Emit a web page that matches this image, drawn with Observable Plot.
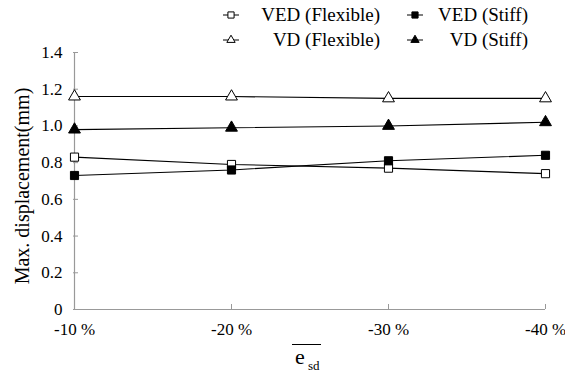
<!DOCTYPE html>
<html>
<head>
<meta charset="utf-8">
<script src="https://cdn.jsdelivr.net/npm/d3@7"></script>
<script src="https://cdn.jsdelivr.net/npm/@observablehq/plot@0.6"></script>
<style>
  body { margin: 0; background: #fff; }
  #wrap { position: relative; width: 565px; height: 377px; font-family: "Liberation Serif", "Times New Roman", serif; color: #000; }
  #wrap svg.plot { position: absolute; left: 0; top: 0; }
  .legend-text { position: absolute; font-size: 19px; line-height: 20px; white-space: nowrap; }
  .xtitle { position: absolute; left: 292px; top: 340px; font-size: 22px; line-height: 22px; }
  .xtitle .bar { position: absolute; left: 0; top: 4px; width: 29px; border-top: 1.5px solid #000; }
  .xtitle .e { position: absolute; left: 3px; top: 6px; }
  .xtitle .sub { position: absolute; left: 16px; top: 19px; font-size: 13px; line-height: 13px; }
</style>
</head>
<body>
<div id="wrap"></div>
<script>
// Relative eccentricity categories along the x axis
const categories = ["-10 %", "-20 %", "-30 %", "-40 %"];

// Maximum displacement (mm) for each case
const vedFlexible = [0.83, 0.79, 0.77, 0.74];
const vedStiff    = [0.73, 0.76, 0.81, 0.84];
const vdFlexible  = [1.16, 1.16, 1.15, 1.15];
const vdStiff     = [0.98, 0.99, 1.00, 1.02];

const seriesNames = ["VED (Flexible)", "VED (Stiff)", "VD (Flexible)", "VD (Stiff)"];
const yTicks = [0, 0.2, 0.4, 0.6, 0.8, 1.0, 1.2, 1.4];

// Marker style per series
const markerStyle = {
  "VED (Flexible)": {symbol: "square", fill: "white"},
  "VED (Stiff)":    {symbol: "square", fill: "black"},
  "VD (Flexible)":  {symbol: "triangle", fill: "white"},
  "VD (Stiff)":     {symbol: "triangle", fill: "black"}
};

const seriesValues = [vedFlexible, vedStiff, vdFlexible, vdStiff];
const rows = seriesNames.flatMap((name, s) =>
  categories.map((cat, i) => ({series: name, cat, value: seriesValues[s][i]}))
);

const axisColor = "#999";

const dotMarks = seriesNames.map(name => Plot.dot(rows.filter(d => d.series === name), {
  x: "cat", y: "value",
  symbol: () => markerStyle[name].symbol,
  r: markerStyle[name].symbol === "square" ? 4.6 : 4.4,
  fill: markerStyle[name].fill,
  stroke: "black",
  strokeWidth: 1
}));

const chart = Plot.plot({
  width: 565,
  height: 377,
  marginLeft: 73,
  marginRight: 20,
  marginTop: 52,
  marginBottom: 68,
  style: {fontFamily: "'Liberation Serif', 'Times New Roman', serif", fontSize: "17px", color: "#000", background: "white"},
  x: {type: "point", domain: categories, padding: 0, label: null},
  y: {domain: [0, 1.4], label: null},
  marks: [
    // axis lines
    Plot.ruleX([categories[0]], {stroke: axisColor, strokeWidth: 1.2}),
    Plot.ruleY([0], {stroke: axisColor, strokeWidth: 1.2}),
    // inward tick marks
    Plot.axisY(yTicks.filter(d => d > 0), {anchor: "left", tickSize: 5, dx: 5, text: null, label: null, stroke: axisColor}),
    Plot.axisX(categories.slice(1), {anchor: "bottom", tickSize: 5, dy: -5, text: null, label: null, stroke: axisColor}),
    // tick labels
    Plot.axisY(yTicks, {anchor: "left", tickSize: 0, tickPadding: 11, label: null,
      tickFormat: d => d === 0 ? "0" : d.toFixed(1), fill: "black"}),
    Plot.axisX(categories, {anchor: "bottom", tickSize: 0, tickPadding: 13, label: null, fill: "black"}),
    Plot.text(["Max. displacement(mm)"], {
      frameAnchor: "left", textAnchor: "middle", dx: -51, dy: 5, rotate: -90, fontSize: 20, fill: "black"
    }),
    // series lines and markers
    Plot.line(rows, {x: "cat", y: "value", z: "series", stroke: "black", strokeWidth: 1.1}),
    ...dotMarks
  ]
});
chart.classList.add("plot");

const wrap = document.getElementById("wrap");
wrap.appendChild(chart);

// Legend: two columns, text right-aligned
const legendItems = [
  {name: "VED (Flexible)", cx: 231, cy: 15, textRight: 380},
  {name: "VED (Stiff)",    cx: 415, cy: 15, textRight: 528},
  {name: "VD (Flexible)",  cx: 231, cy: 40, textRight: 380},
  {name: "VD (Stiff)",     cx: 415, cy: 40, textRight: 528}
];
const symbolPaths = {square: d3.symbolSquare, triangle: d3.symbolTriangle};
for (const item of legendItems) {
  const st = markerStyle[item.name];
  const svg = d3.create("svg")
    .attr("width", 20).attr("height", 14)
    .style("position", "absolute")
    .style("left", (item.cx - 10) + "px")
    .style("top", (item.cy - 7) + "px");
  svg.append("line").attr("x1", 2).attr("x2", 18).attr("y1", 7).attr("y2", 7)
    .attr("stroke", "black").attr("stroke-width", 1);
  const size = st.symbol === "square" ? 38 : 30;
  svg.append("path")
    .attr("transform", "translate(10,7)")
    .attr("d", d3.symbol(symbolPaths[st.symbol], size)())
    .attr("fill", st.fill).attr("stroke", "black").attr("stroke-width", 1);
  wrap.appendChild(svg.node());

  const t = document.createElement("div");
  t.className = "legend-text";
  t.textContent = item.name;
  t.style.right = (565 - item.textRight) + "px";
  t.style.top = (item.cy - 10) + "px";
  wrap.appendChild(t);
}

// x-axis title: overlined e with subscript sd
const xt = document.createElement("div");
xt.className = "xtitle";
xt.innerHTML = '<div class="bar"></div><span class="e">e</span><span class="sub">sd</span>';
wrap.appendChild(xt);
</script>
</body>
</html>
